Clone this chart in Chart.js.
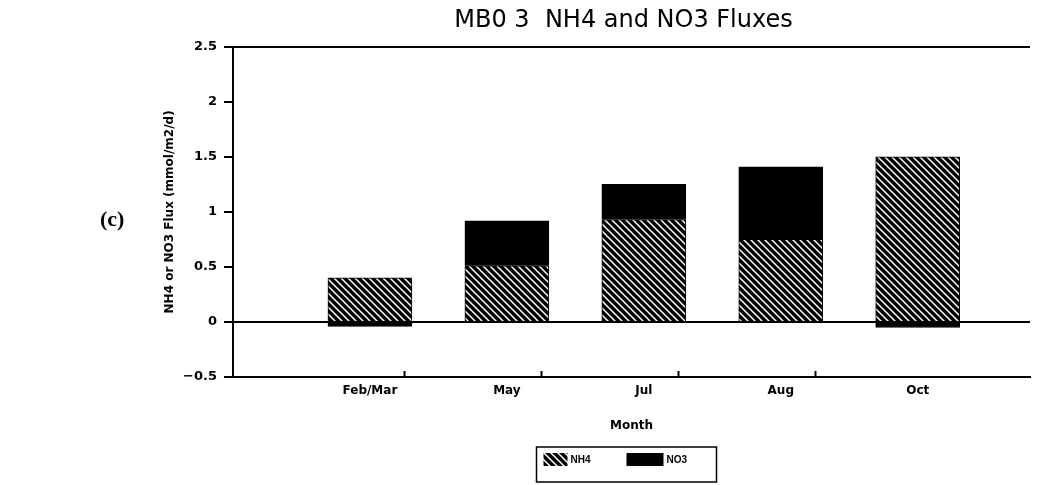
<!DOCTYPE html>
<html>
<head>
<meta charset="utf-8">
<script src="https://cdn.jsdelivr.net/npm/chart.js@4/dist/chart.umd.min.js"></script>
<style>
  body { margin: 0; background: #fff; }
  #wrap { position: relative; width: 1042px; height: 485px; }
  #panel { position: absolute; left: 100px; top: 206px; font: bold 22px "Liberation Serif", serif; color: #000; }
</style>
</head>
<body>
<div id="wrap">
  <canvas id="flux" width="1042" height="485"></canvas>
  <div id="panel">(c)</div>
</div>
<script>
// chart data
const months = ['Feb/Mar', 'May', 'Jul', 'Aug', 'Oct'];
const nh4 = [0.40, 0.51, 0.93, 0.75, 1.50];
const no3 = [-0.04, 0.41, 0.32, 0.66, -0.05];
const yTicks = [-0.5, 0, 0.5, 1, 1.5, 2, 2.5];

Chart.defaults.font.family = '"DejaVu Sans", sans-serif';
Chart.defaults.color = '#000';

// black fill with thin white diagonal lines
function hatch() {
  const c = document.createElement('canvas');
  c.width = 7; c.height = 7;
  const g = c.getContext('2d');
  g.fillStyle = '#000';
  g.fillRect(0, 0, 7, 7);
  g.strokeStyle = '#fff';
  g.lineWidth = 1.5;
  g.beginPath();
  g.moveTo(-1, -1); g.lineTo(8, 8);
  g.moveTo(-1, 6); g.lineTo(1, 8);
  g.moveTo(6, -1); g.lineTo(8, 1);
  g.stroke();
  return g.createPattern(c, 'repeat');
}
const hatchFill = hatch();

// x ticks: month labels at whole steps, small marks half way between
const xTickVals = months.flatMap((m, i) => i < months.length - 1 ? [i, i + 0.5] : [i]);

// centre the title on the plot instead of the canvas
const centerTitle = {
  id: 'centerTitle',
  afterLayout(chart) {
    const t = chart.titleBlock;
    const mid = (chart.chartArea.left + chart.chartArea.right) / 2 - 8;
    const w = t.right - t.left;
    t.left = mid - w / 2;
    t.right = mid + w / 2;
  }
};

// boxed legend under the plot
const boxLegend = {
  id: 'boxLegend',
  afterDraw(chart) {
    const { ctx, chartArea } = chart;
    const mid = (chartArea.left + chartArea.right) / 2 - 5;
    const bx = mid - 90, by = chart.height - 38, bw = 180, bh = 35;
    ctx.save();
    ctx.strokeStyle = '#000';
    ctx.lineWidth = 1.5;
    ctx.strokeRect(bx, by, bw, bh);
    ctx.font = 'bold 10px "Liberation Sans", sans-serif';
    ctx.textBaseline = 'middle';
    const ds = chart.data.datasets;
    const items = [{ x: bx + 7, w: 24 }, { x: bx + 90, w: 37 }];
    items.forEach((it, i) => {
      ctx.fillStyle = ds[i].backgroundColor;
      ctx.fillRect(it.x, by + 6, it.w, 13);
      ctx.fillStyle = '#000';
      ctx.fillText(ds[i].label, it.x + it.w + 3, by + 13);
    });
    ctx.restore();
  }
};

new Chart(document.getElementById('flux'), {
  type: 'bar',
  data: {
    datasets: [
      {
        label: 'NH4',
        data: nh4.map((v, i) => ({ x: i, y: v })),
        backgroundColor: hatchFill,
        borderColor: '#000',
        borderWidth: 1
      },
      {
        label: 'NO3',
        data: no3.map((v, i) => ({ x: i, y: v })),
        backgroundColor: '#000',
        borderColor: '#000',
        borderWidth: 1
      }
    ]
  },
  options: {
    responsive: false,
    animation: false,
    devicePixelRatio: 1,
    barThickness: 84,
    layout: { padding: { left: 150, right: 12, top: 0, bottom: 38 } },
    plugins: {
      legend: { display: false },
      tooltip: { enabled: false },
      title: {
        display: true,
        text: 'MB0 3  NH4 and NO3 Fluxes',
        font: { size: 24, weight: 'normal' },
        padding: { top: 6, bottom: 12 }
      }
    },
    scales: {
      x: {
        type: 'linear',
        stacked: true,
        offset: false,
        min: -1,
        max: 4.82,
        afterBuildTicks: s => { s.ticks = xTickVals.map(v => ({ value: v })); },
        afterFit: s => { s.height = 70; },
        ticks: {
          autoSkip: false,
          maxRotation: 0,
          padding: 13,
          font: { size: 12, weight: 'bold' },
          callback: v => Number.isInteger(v) ? months[v] : ''
        },
        grid: {
          drawOnChartArea: false,
          tickLength: -6,
          tickWidth: 2,
          tickColor: c => (c.tick && !Number.isInteger(c.tick.value)) ? '#000' : 'transparent'
        },
        border: { color: '#000', width: 2 },
        title: {
          display: true,
          text: 'Month',
          font: { size: 12, weight: 'bold' },
          padding: { top: 0, bottom: 14 }
        }
      },
      y: {
        stacked: true,
        min: -0.5,
        max: 2.5,
        afterBuildTicks: s => { s.ticks = yTicks.map(v => ({ value: v })); },
        afterFit: s => { s.width = 83; },
        ticks: {
          padding: 7,
          font: { size: 13, weight: 'bold' },
          callback: v => String(v).replace('-', '−')
        },
        grid: {
          tickLength: 9,
          tickWidth: 2,
          tickColor: '#000',
          lineWidth: 2,
          color: c => (c.tick && (c.tick.value === 0 || c.tick.value === 2.5)) ? '#000' : 'transparent'
        },
        border: { color: '#000', width: 2 },
        title: {
          display: true,
          text: 'NH4 or NO3 Flux (mmol/m2/d)',
          font: { size: 12, weight: 'bold' },
          padding: { top: 13, bottom: 0 }
        }
      }
    }
  },
  plugins: [centerTitle, boxLegend]
});
</script>
</body>
</html>
